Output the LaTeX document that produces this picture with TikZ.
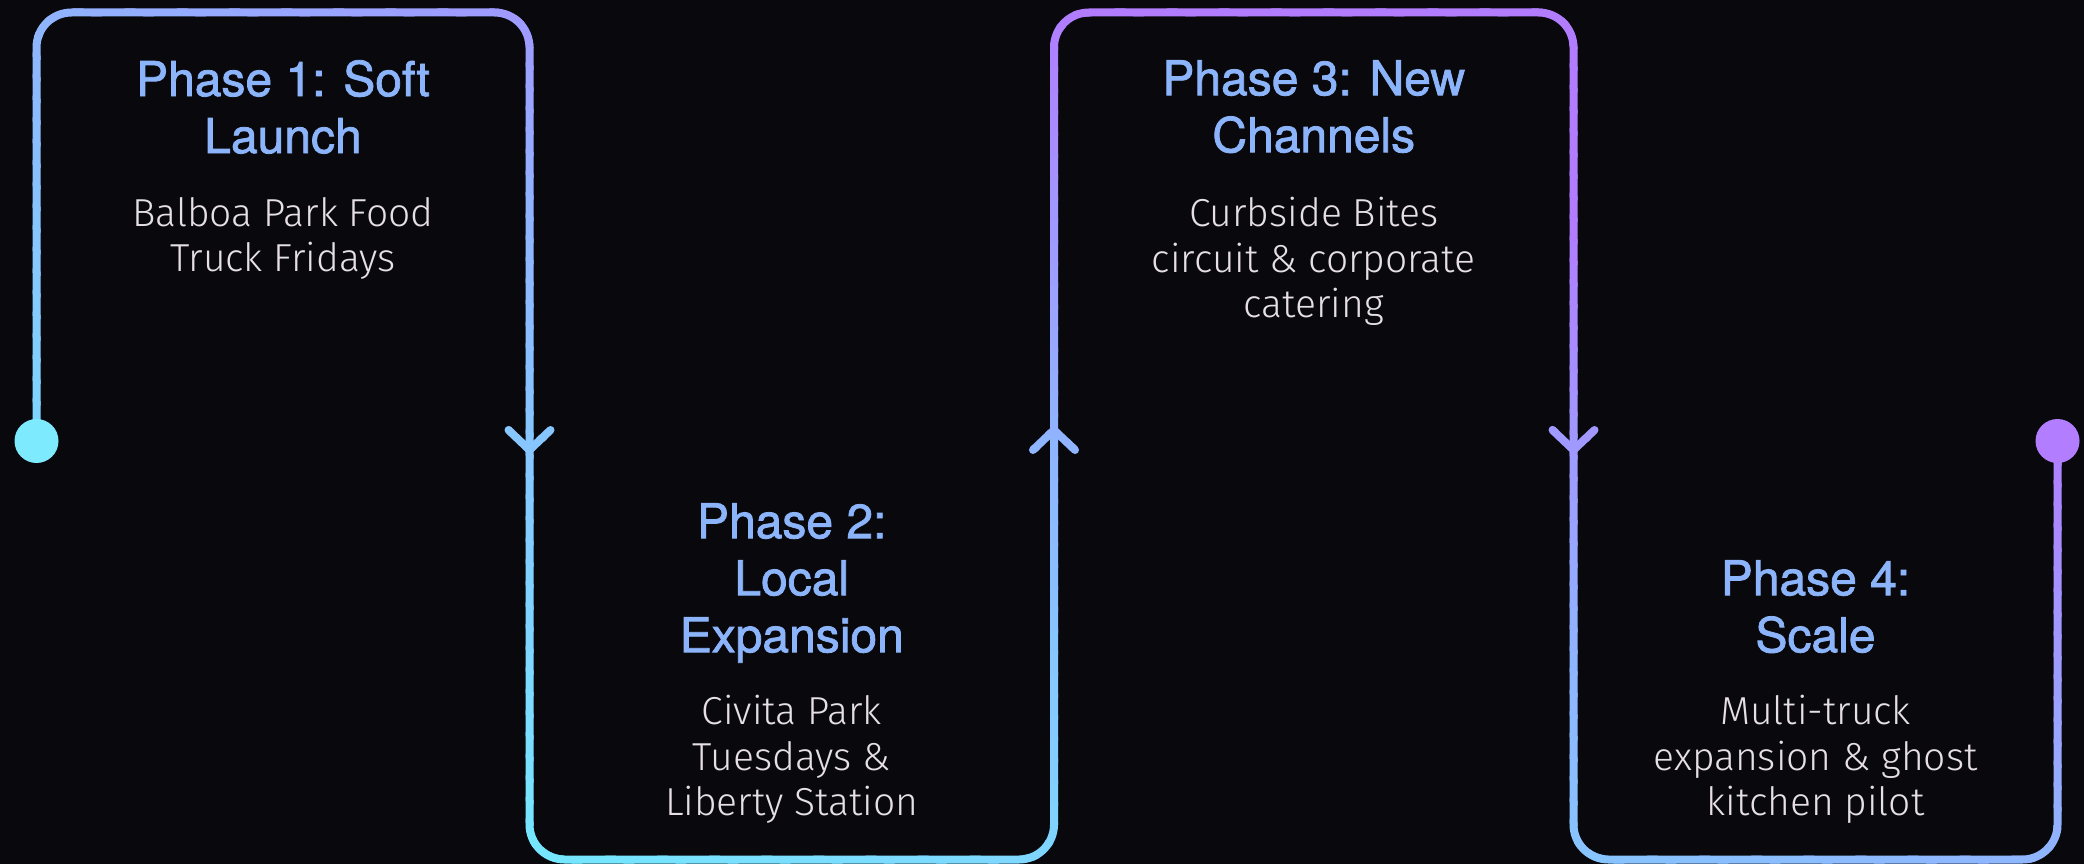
\documentclass[tikz,border=0pt]{standalone}
\usepackage{fontspec}
\newfontfamily\titlefont{TeX Gyre Heros}[FakeBold=1.6]
\newfontfamily\bodyfont{Fira Sans}[UprightFont={* Light}]
\usetikzlibrary{positioning}

\definecolor{bgdark}{HTML}{09090D}
\definecolor{trailcyan}{HTML}{6CFAFF}
\definecolor{trailblue}{HTML}{90B4FF}
\definecolor{trailpurple}{HTML}{B27CFF}
\definecolor{dotcyan}{HTML}{7DEBFD}
\definecolor{dotpurple}{HTML}{B27EFF}
\definecolor{titleblue}{HTML}{8CB4FA}
\definecolor{bodygray}{HTML}{E6E0E6}

\tikzset{
  trail/.style={line width=8pt, rounded corners=35pt, line cap=round, line join=round},
  chevron/.pic={\draw[line width=8pt, line cap=round, line join=round] (-21,-10) -- (0,10) -- (21,-10);},
  dot/.style={circle, minimum size=44pt, inner sep=0pt},
  phasetitle/.style={anchor=north, align=center, inner sep=0pt, text=titleblue,
    font=\titlefont\fontsize{48}{57}\selectfont},
  phasetext/.style={anchor=north, align=center, inner sep=0pt, text=bodygray,
    font=\bodyfont\fontsize{39}{45.5}\selectfont},
}

\begin{document}
\begin{tikzpicture}[x=1pt, y=-1pt]
  \useasboundingbox (0,0) rectangle (2084,864);
  \fill[bgdark] (0,0) rectangle (2084,864);

  % corners of the trail
  \coordinate (launch) at (36.5,441);
  \coordinate (k1) at (529.5,12.5);
  \coordinate (k2) at (1054,859.5);
  \coordinate (k3) at (1573.5,12.5);
  \coordinate (k4) at (2057.5,859.5);
  \coordinate (finish) at (2057.5,441);
  \coordinate (a1) at (529.5,440);
  \coordinate (a2) at (1054,440);
  \coordinate (a3) at (1573.5,440);

  % trail, coloured band by band along the diagonal
  \foreach \i in {8,...,72} {
    \pgfmathsetmacro\sa{\i/40}
    \pgfmathsetmacro\sb{(\i+1.2)/40}
    \pgfmathsetmacro\pa{min(100,100*(\i+0.5)/40)}
    \pgfmathsetmacro\pb{max(0,min(100,200*((\i+0.5)/40-1)))}
    \colorlet{bandcol}{trailblue!\pa!trailcyan}
    \colorlet{bandcol}{trailpurple!\pb!bandcol}
    \begin{scope}[color=bandcol]
      \clip ({(\sa-2)*2084},-864) -- ({(\sa+1)*2084},1728)
        -- ({(\sb+1)*2084},1728) -- ({(\sb-2)*2084},-864) -- cycle;
      \draw[trail] (launch) |- (k1) |- (k2) |- (k3) |- (k4) -- (finish);
      \pic at (a1) {chevron};
      \pic[rotate=180] at (a2) {chevron};
      \pic at (a3) {chevron};
    \end{scope}
  }

  \node[dot, fill=dotcyan] (startdot) at (launch) {};
  \node[dot, fill=dotpurple] (enddot) at (finish) {};

  % phases
  \node[phasetitle] (t1) at (283,60) {Phase 1: Soft\\Launch};
  \node[phasetext] (d1) at (283,197) {Balboa Park Food\\Truck Fridays};
  \node[phasetitle] (t2) at (791.75,503) {Phase 2:\\Local\\Expansion};
  \node[phasetext] (d2) at (791.75,695) {Civita Park\\Tuesdays \&\\Liberty Station};
  \node[phasetitle] (t3) at (1313.75,60) {Phase 3: New\\Channels};
  \node[phasetext] (d3) at (1313.75,197) {Curbside Bites\\circuit \& corporate\\catering};
  \node[phasetitle] (t4) at (1815.5,560) {Phase 4:\\Scale};
  \node[phasetext] (d4) at (1815.5,695) {Multi-truck\\expansion \& ghost\\kitchen pilot};
\end{tikzpicture}
\end{document}
